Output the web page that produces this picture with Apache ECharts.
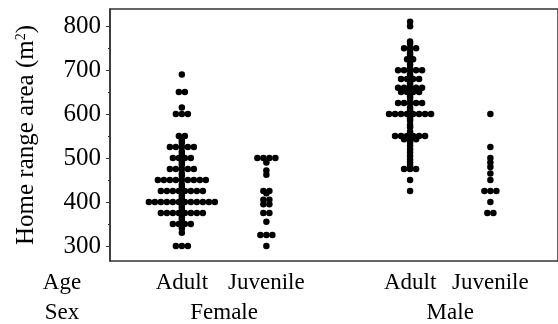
<!DOCTYPE html>
<html>
<head>
<meta charset="utf-8">
<script src="https://cdn.jsdelivr.net/npm/echarts@6/dist/echarts.min.js"></script>
<style>
  html, body {margin: 0; padding: 0; background: #fff;}
  #chart {width: 558px; height: 324px;}
</style>
</head>
<body>
<div id="chart"></div>
<script>
// values (m2), one entry per dot
const femaleAdult = [
  690, 650, 650, 615, 600, 600, 600, 550, 550, 545, 540, 535,
  525, 525, 525, 525, 525, 515, 510,
  500, 500, 500, 500, 490, 485,
  475, 475, 475, 475, 475, 465, 460,
  450, 450, 450, 450, 450, 450, 450, 450, 450, 440, 435,
  425, 425, 425, 425, 425, 425, 425, 425, 415, 410, 405,
  400, 400, 400, 400, 400, 400, 400, 400, 400, 400, 400, 400, 395, 390, 385,
  375, 375, 375, 375, 375, 375, 375, 375, 365, 360,
  350, 350, 350, 350, 340, 330,
  300, 300, 300
];
const femaleJuvenile = [
  500, 500, 500, 500, 490, 472, 462,
  425, 425, 420, 405, 405, 395, 395,
  375, 375, 355, 325, 325, 325, 300
];
const maleAdult = [
  810, 800, 765, 760, 750, 750, 750, 740, 735, 725, 725, 720, 712, 705,
  700, 700, 700, 700, 700, 690, 685, 680, 680, 680, 680, 670, 665,
  660, 660, 660, 660, 660, 655, 650, 650, 650, 650, 640, 635,
  625, 625, 625, 625, 625, 615, 610,
  600, 600, 600, 600, 600, 600, 600, 600, 590, 585, 575, 570, 560,
  550, 550, 550, 550, 550, 550, 543, 543, 543,
  535, 528, 520, 512, 505, 497, 490, 483, 475, 475, 475, 450, 425
];
const maleJuvenile = [600, 525, 500, 490, 480, 465, 450, 425, 425, 425, 400, 375, 375];

const groups = [femaleAdult, femaleJuvenile, maleAdult, maleJuvenile];
const groupPositions = [1, 2, 3.7, 4.65];
const ageLabels = ['Adult', 'Juvenile', 'Adult', 'Juvenile'];
const sexLabels = ['Female', 'Male'];
const sexPositions = [1.5, 4.175];
const yTicks = [300, 400, 500, 600, 700, 800];
const yMinorTicks = [350, 450, 550, 650, 750];

const FONT = 'Liberation Serif';
const FS = 23;
const DOT = 6;      // dot spacing inside a row, px

// spread equal values sideways, centred on the group
function swarm(values, x) {
  const counts = {}, seen = {};
  values.forEach(v => counts[v] = (counts[v] || 0) + 1);
  return values.map(v => {
    const k = seen[v] = (seen[v] || 0) + 1;
    const off = (k - 1 - (counts[v] - 1) / 2) * DOT;
    return {value: [x, v], symbolOffset: [off, 0]};
  });
}

function labelAt(positions, labels) {
  return val => {
    const i = positions.findIndex(p => Math.abs(p - val) < 1e-6);
    return i < 0 ? '' : labels[i];
  };
}

const chart = echarts.init(document.getElementById('chart'), null, {renderer: 'canvas'});
chart.setOption({
  animation: false,
  textStyle: {fontFamily: FONT},
  grid: {
    left: 110, top: 9, right: -4, bottom: 63,
    show: true, borderColor: '#333', borderWidth: 1.5
  },
  xAxis: [{
    type: 'value', min: 0.15, max: 5.45,
    axisLine: {show: false}, axisTick: {show: false}, splitLine: {show: false},
    axisLabel: {
      customValues: groupPositions, formatter: labelAt(groupPositions, ageLabels),
      fontFamily: FONT, fontSize: FS, color: '#000', margin: 10
    }
  }, {
    type: 'value', min: 0.15, max: 5.45, position: 'bottom', offset: 30,
    axisLine: {show: false}, axisTick: {show: false}, splitLine: {show: false},
    axisLabel: {
      customValues: sexPositions, formatter: labelAt(sexPositions, sexLabels),
      fontFamily: FONT, fontSize: FS, color: '#000', margin: 10
    }
  }],
  yAxis: [{
    type: 'value', min: 266, max: 839,
    name: 'Home range area (m{sup|2})',
    nameLocation: 'middle', nameGap: 71, nameRotate: 90,
    nameTextStyle: {
      fontFamily: FONT, fontSize: 25, color: '#000',
      rich: {sup: {fontFamily: FONT, fontSize: 14, color: '#000', verticalAlign: 'bottom', padding: [0, 0, 11, 0]}}
    },
    axisLine: {show: true, lineStyle: {color: '#333', width: 1.5}},
    axisTick: {show: true, customValues: yTicks, length: 4, lineStyle: {color: '#333'}},
    splitLine: {show: false},
    axisLabel: {customValues: yTicks, fontFamily: FONT, fontSize: 25, color: '#000', margin: 9}
  }, {
    type: 'value', min: 266, max: 839, position: 'left',
    axisLine: {show: false},
    axisTick: {show: true, customValues: yMinorTicks, length: 2, lineStyle: {color: '#333'}},
    axisLabel: {show: false}, splitLine: {show: false}
  }],
  graphic: [
    {type: 'text', x: 62, y: 283, style: {text: 'Age', font: FS + 'px "Liberation Serif"', fill: '#000', align: 'center', verticalAlign: 'middle'}},
    {type: 'text', x: 62, y: 313, style: {text: 'Sex', font: FS + 'px "Liberation Serif"', fill: '#000', align: 'center', verticalAlign: 'middle'}}
  ],
  series: groups.map((g, i) => ({
    type: 'scatter',
    symbol: 'circle', symbolSize: 6.5,
    itemStyle: {color: '#000', opacity: 1},
    data: swarm(g, groupPositions[i])
  }))
});
</script>
</body>
</html>
